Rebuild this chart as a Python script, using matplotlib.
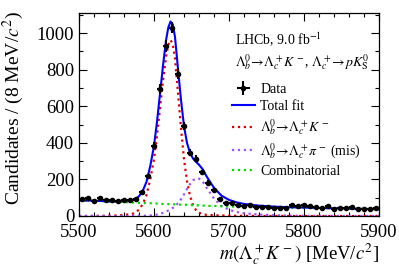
import numpy as np
import matplotlib
matplotlib.use("Agg")
import matplotlib.pyplot as plt
from matplotlib.ticker import MultipleLocator

plt.rcParams['font.family'] = 'Liberation Serif'
plt.rcParams['mathtext.fontset'] = 'stix'

# data: 8 MeV bins, centres 5504 ... 5896
bin_centres = np.arange(5504, 5900, 8)
counts = [95, 97, 80, 98, 90, 86, 82, 86, 88, 92,
          133, 216, 384, 695, 929, 1030, 779, 490, 347, 314,
          238, 183, 143, 93, 73, 70, 58, 55, 60, 48,
          51, 47, 44, 42, 46, 60, 57, 61, 55, 50,
          46, 52, 38, 44, 46, 49, 38, 40, 38, 42]

# fit components
fit_mass = [5500, 5520, 5540, 5550, 5560, 5570, 5575, 5580, 5585, 5590,
            5595, 5600, 5604, 5608, 5612, 5616, 5619, 5622, 5625, 5628,
            5632, 5636, 5640, 5644, 5648, 5652, 5656, 5660, 5665, 5670,
            5675, 5680, 5690, 5700, 5710, 5720, 5740, 5760, 5780, 5800,
            5850, 5900]
signal = [0, 0.5, 1.5, 3, 6, 10, 18, 35, 65, 115,
          200, 310, 440, 590, 740, 870, 935, 962, 940, 860,
          670, 480, 310, 190, 110, 60, 32, 18, 10, 6,
          5, 4, 3, 2, 1.5, 1, 0.5, 0.3, 0, 0,
          0, 0]
misid = [0, 0, 0, 0, 0, 0, 0.5, 1, 1.5, 2,
         3, 5, 8, 12, 17, 24, 30, 36, 44, 54,
         70, 92, 118, 148, 175, 195, 205, 204, 188, 155,
         125, 95, 55, 34, 22, 15, 8, 4, 2, 1,
         0.3, 0]
combinatorial = [86, 83, 79, 77, 76, 74, 73, 72, 71, 70,
                 70, 69, 68, 67, 66, 66, 65, 65, 64, 64,
                 63, 62, 62, 61, 60, 59, 59, 58, 57, 56,
                 55, 55, 53, 52, 51, 50, 48, 47, 46, 45,
                 41, 37]

total = np.array(signal) + np.array(misid) + np.array(combinatorial)
errors = np.sqrt(counts)

fig = plt.figure(figsize=(3.99, 2.70), dpi=100)
ax = fig.add_axes([0.198, 0.2, 0.752, 0.752])

ax.plot(fit_mass, signal, color='#dd0000', ls=':', lw=1.6,
        label=r'$\mathit{\Lambda}_b^0\!\to\!\mathit{\Lambda}_c^+K^-$')
ax.plot(fit_mass, misid, color='#a050ff', ls=':', lw=1.6,
        label=r'$\mathit{\Lambda}_b^0\!\to\!\mathit{\Lambda}_c^+\pi^-$ (mis)')
ax.plot(fit_mass, combinatorial, color='#00dd00', ls=':', lw=1.6,
        label='Combinatorial')
ax.plot(fit_mass, total, color='#0000ff', lw=1.5, label='Total fit')
ax.errorbar(bin_centres, counts, yerr=errors, xerr=4, fmt='o', ms=3,
            color='black', elinewidth=1.5, capsize=0, label='Data')

ax.set_xlim(5500, 5900)
ax.set_ylim(0, 1110)
ax.xaxis.set_major_locator(MultipleLocator(100))
ax.xaxis.set_minor_locator(MultipleLocator(20))
ax.yaxis.set_major_locator(MultipleLocator(200))
ax.yaxis.set_minor_locator(MultipleLocator(100))
ax.tick_params(which='both', direction='in', top=True, right=True,
               labelsize=13.5, width=0.8)
ax.tick_params(axis='x', pad=6)
ax.tick_params(which='major', length=6)
ax.tick_params(which='minor', length=3)
for s in ax.spines.values():
    s.set_linewidth(0.9)

ax.set_xlabel(r'$m(\mathit{\Lambda}_c^+K^-)$ [MeV/$c^2$]', fontsize=13.5,
              loc='right', labelpad=0)
fig.text(13 / 399, 1 - 11 / 270, r'Candidates / (8 MeV/$c^2$)', fontsize=14,
         rotation=90, ha='center', va='top')

ax.text(0.52, 0.867, r'LHCb, 9.0 fb$^{-1}$', transform=ax.transAxes,
        fontsize=10, va='center')
ax.text(0.52, 0.759,
        r'$\mathit{\Lambda}_b^0\!\to\!\mathit{\Lambda}_c^+K^-$, $\mathit{\Lambda}_c^+\!\to\! pK^0_{\rm S}$',
        transform=ax.transAxes, fontsize=10, va='center')

h, l = ax.get_legend_handles_labels()
order = [4, 3, 0, 1, 2]
ax.legend([h[i] for i in order], [l[i] for i in order], loc='upper left',
          bbox_to_anchor=(0.51, 0.655), frameon=False, fontsize=10,
          handlelength=1.65, handletextpad=0.4, labelspacing=0.3,
          borderpad=0, borderaxespad=0)

fig.savefig('out.png', dpi=100)
